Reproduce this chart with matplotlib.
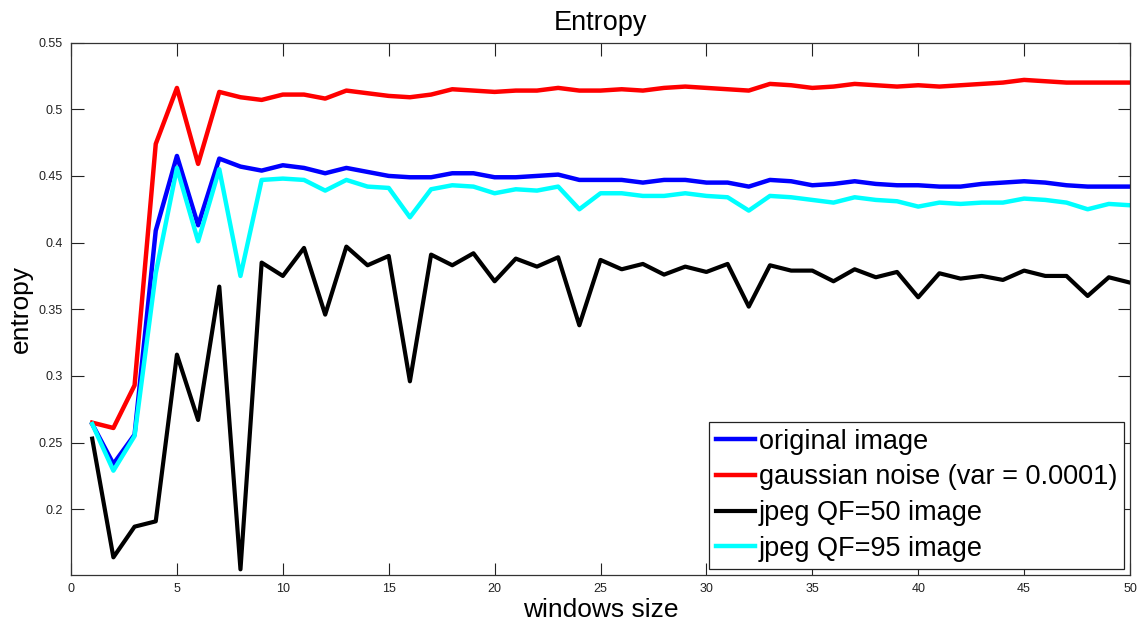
import numpy as np
import matplotlib
matplotlib.use("Agg")
import matplotlib.pyplot as plt

matplotlib.rcParams['font.family'] = ['Liberation Sans', 'DejaVu Sans']

window = np.arange(1, 51)

original = [0.264, 0.234, 0.256, 0.409, 0.465, 0.413, 0.463, 0.457, 0.454, 0.458,
            0.456, 0.452, 0.456, 0.453, 0.450, 0.449, 0.449, 0.452, 0.452, 0.449,
            0.449, 0.450, 0.451, 0.447, 0.447, 0.447, 0.445, 0.447, 0.447, 0.445,
            0.445, 0.442, 0.447, 0.446, 0.443, 0.444, 0.446, 0.444, 0.443, 0.443,
            0.442, 0.442, 0.444, 0.445, 0.446, 0.445, 0.443, 0.442, 0.442, 0.442]
gaussian = [0.265, 0.261, 0.293, 0.474, 0.516, 0.459, 0.513, 0.509, 0.507, 0.511,
            0.511, 0.508, 0.514, 0.512, 0.510, 0.509, 0.511, 0.515, 0.514, 0.513,
            0.514, 0.514, 0.516, 0.514, 0.514, 0.515, 0.514, 0.516, 0.517, 0.516,
            0.515, 0.514, 0.519, 0.518, 0.516, 0.517, 0.519, 0.518, 0.517, 0.518,
            0.517, 0.518, 0.519, 0.520, 0.522, 0.521, 0.520, 0.520, 0.520, 0.520]
jpeg50 = [0.253, 0.164, 0.187, 0.191, 0.316, 0.267, 0.367, 0.155, 0.385, 0.375,
          0.396, 0.346, 0.397, 0.383, 0.390, 0.296, 0.391, 0.383, 0.392, 0.371,
          0.388, 0.382, 0.389, 0.338, 0.387, 0.380, 0.384, 0.376, 0.382, 0.378,
          0.384, 0.352, 0.383, 0.379, 0.379, 0.371, 0.380, 0.374, 0.378, 0.359,
          0.377, 0.373, 0.375, 0.372, 0.379, 0.375, 0.375, 0.360, 0.374, 0.370]
jpeg95 = [0.264, 0.229, 0.255, 0.377, 0.456, 0.401, 0.455, 0.375, 0.447, 0.448,
          0.447, 0.439, 0.447, 0.442, 0.441, 0.419, 0.440, 0.443, 0.442, 0.437,
          0.440, 0.439, 0.442, 0.425, 0.437, 0.437, 0.435, 0.435, 0.437, 0.435,
          0.434, 0.424, 0.435, 0.434, 0.432, 0.430, 0.434, 0.432, 0.431, 0.427,
          0.430, 0.429, 0.430, 0.430, 0.433, 0.432, 0.430, 0.425, 0.429, 0.428]

labels = ['original image', 'gaussian noise (var = 0.0001)',
          'jpeg QF=50 image', 'jpeg QF=95 image']
xticks = [0, 5, 10, 15, 20, 25, 30, 35, 40, 45, 50]
yticks = [0.2, 0.25, 0.3, 0.35, 0.4, 0.45, 0.5, 0.55]
ytick_labels = ['0.2', '0.25', '0.3', '0.35', '0.4', '0.45', '0.5', '0.55']

fig = plt.figure(figsize=(11.42, 6.26), dpi=100)
ax = fig.add_axes([0.0622, 0.082, 0.9273, 0.850])

ax.plot(window, original, color='#0000ff', lw=3.2, label=labels[0])
ax.plot(window, gaussian, color='#ff0000', lw=3.2, label=labels[1])
ax.plot(window, jpeg50, color='#000000', lw=3.0, label=labels[2])
ax.plot(window, jpeg95, color='#00ffff', lw=3.2, label=labels[3])

ax.set_xlim(0, 50)
ax.set_ylim(0.151, 0.55)
ax.set_xticks(xticks)
ax.set_xticklabels([str(t) for t in xticks])
ax.set_yticks(yticks)
ax.set_yticklabels(ytick_labels)
ax.tick_params(direction='in', top=True, right=True, length=9, width=0.8,
               labelsize=9, colors='#222222', pad=6)
for sp in ax.spines.values():
    sp.set_color('#333333')
    sp.set_linewidth(0.9)

ax.set_title('Entropy', fontsize=19.5, pad=9)
ax.set_xlabel('windows size', fontsize=19, labelpad=2)
ax.set_ylabel('entropy', fontsize=19, labelpad=4)

leg = ax.legend(loc='lower right', fontsize=19.5, handlelength=1.45, handletextpad=0.15,
                labelspacing=0.36, borderaxespad=0.22, borderpad=0.25,
                fancybox=False, framealpha=1, edgecolor='#222222')
leg.get_frame().set_linewidth(0.9)

fig.savefig('out.png', dpi=100)
